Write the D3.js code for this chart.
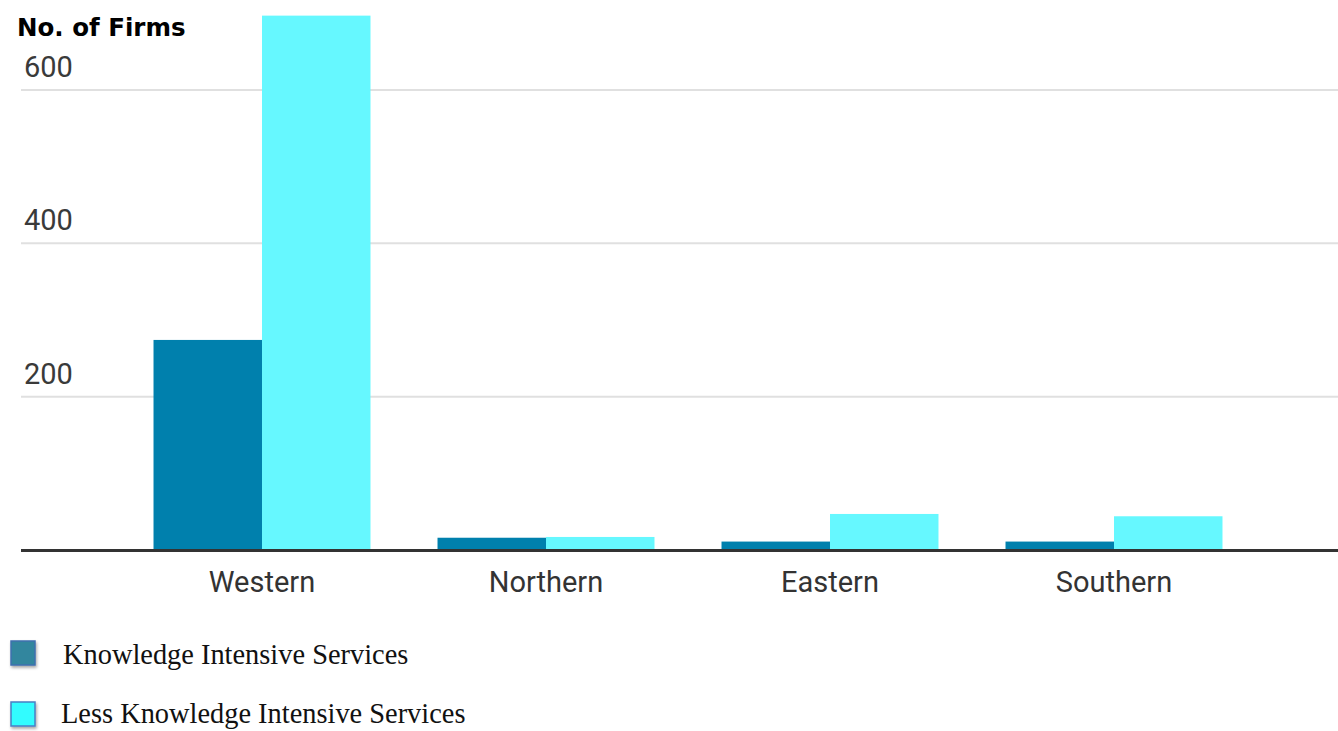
<!DOCTYPE html>
<html>
<head>
<meta charset="utf-8">
<script src="https://cdn.jsdelivr.net/npm/d3@7"></script>
<style>
  body { margin: 0; background: #fff; }
  svg { display: block; }
</style>
</head>
<body>
<div id="graph"></div>
<script>
// data
const regions = ["Western", "Northern", "Eastern", "Southern"];
const knowledgeIntensive = [274, 16, 11, 11];
const lessKnowledgeIntensive = [697, 17, 47, 44];
const seriesNames = ["Knowledge Intensive Services", "Less Knowledge Intensive Services"];
const yTicks = [200, 400, 600];

const width = 1338;
const height = 731;

const barColors = ["#0080ad", "#66f8ff"];
const swatchFill = ["#31869e", "#33fcff"];
const swatchStroke = ["#3f6fae", "#4a7fc4"];

const svg = d3.create("svg")
    .attr("width", width)
    .attr("height", height);

const defs = svg.append("defs");
const shadow = defs.append("filter").attr("id", "shadow")
    .attr("x", "-30%").attr("y", "-30%").attr("width", "160%").attr("height", "160%");
shadow.append("feDropShadow")
    .attr("dx", 1).attr("dy", 2).attr("stdDeviation", 1.5)
    .attr("flood-color", "#000").attr("flood-opacity", 0.35);

// scales
const x = d3.scaleBand()
    .domain(regions)
    .range([120, 1256])
    .paddingInner(0.236)
    .paddingOuter(0.118);

const xSub = d3.scaleBand()
    .domain([0, 1])
    .range([0, x.bandwidth()]);

const y = d3.scaleLinear()
    .domain([0, 600])
    .range([550, 90]);

// gridlines
svg.append("g")
    .selectAll("line")
    .data(yTicks)
    .join("line")
    .attr("x1", 21)
    .attr("x2", width)
    .attr("y1", d => y(d))
    .attr("y2", d => y(d))
    .attr("stroke", "#e0e0e0")
    .attr("stroke-width", 2);

// y labels
svg.append("g")
    .selectAll("text")
    .data(yTicks)
    .join("text")
    .attr("x", 24)
    .attr("y", d => y(d) - 13)
    .attr("font-family", "Roboto")
    .attr("font-size", 29)
    .attr("fill", "#3a3a3a")
    .text(d => d);

// bars
const rows = regions.map((r, i) => ({ region: r, values: [knowledgeIntensive[i], lessKnowledgeIntensive[i]] }));

svg.append("g")
    .selectAll("g")
    .data(rows)
    .join("g")
    .attr("transform", d => `translate(${x(d.region)},0)`)
    .selectAll("rect")
    .data(d => d.values.map((v, k) => ({ k, v })))
    .join("rect")
    .attr("x", d => xSub(d.k))
    .attr("width", xSub.bandwidth())
    .attr("y", d => y(d.v))
    .attr("height", d => y(0) - y(d.v))
    .attr("fill", d => barColors[d.k]);

// baseline
svg.append("line")
    .attr("x1", 21)
    .attr("x2", width)
    .attr("y1", y(0) + 0.5)
    .attr("y2", y(0) + 0.5)
    .attr("stroke", "#333")
    .attr("stroke-width", 3);

// x labels
svg.append("g")
    .selectAll("text")
    .data(regions)
    .join("text")
    .attr("x", d => x(d) + x.bandwidth() / 2)
    .attr("y", 592)
    .attr("text-anchor", "middle")
    .attr("font-family", "Roboto")
    .attr("font-size", 29)
    .attr("fill", "#333")
    .text(d => d);

// axis title
svg.append("text")
    .attr("x", 17)
    .attr("y", 36)
    .attr("font-family", "DejaVu Sans")
    .attr("font-weight", "bold")
    .attr("font-size", 24.5)
    .attr("fill", "#000")
    .text("No. of Firms");

// legend
const legend = svg.append("g")
    .selectAll("g")
    .data(seriesNames)
    .join("g")
    .attr("transform", (d, i) => `translate(0,${i === 0 ? 641 : 702})`);

legend.append("rect")
    .attr("x", 11)
    .attr("y", 0)
    .attr("width", 24)
    .attr("height", 24)
    .attr("fill", (d, i) => swatchFill[i])
    .attr("stroke", (d, i) => swatchStroke[i])
    .attr("stroke-width", 1.5)
    .attr("filter", "url(#shadow)");

legend.append("text")
    .attr("x", (d, i) => i === 0 ? 63 : 61)
    .attr("y", (d, i) => i === 0 ? 23 : 21)
    .attr("font-family", "Liberation Serif")
    .attr("font-size", 28.4)
    .attr("fill", "#111")
    .text(d => d);

document.getElementById("graph").appendChild(svg.node());
</script>
</body>
</html>
